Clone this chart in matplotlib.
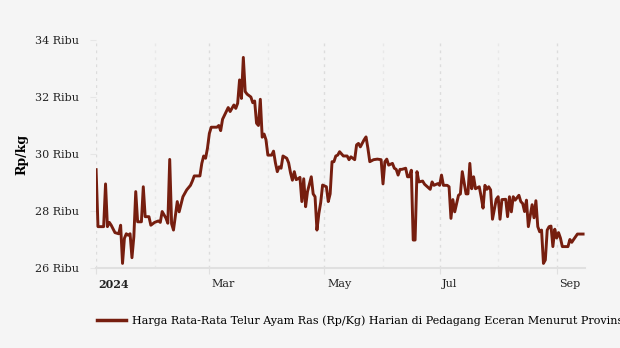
import matplotlib
matplotlib.use("Agg")
import matplotlib.pyplot as plt
import matplotlib.transforms as mtrans
import pandas as pd
from matplotlib.lines import Line2D

# days since 1 Jan 2024 and average price (thousand Rp/kg)
DAYS = [0, 1, 4, 5, 6, 7, 8, 10, 12, 13, 14, 15, 16, 17, 18, 19, 20, 21, 22, 24,
        25, 26, 28, 29, 31, 33, 34, 35, 37, 38, 39, 40, 41, 43, 44, 46, 48, 50, 51, 52,
        55, 56, 57, 58, 59, 60, 61, 64, 65, 66, 67, 69, 70, 71, 73, 74, 75, 76, 77, 78,
        79, 80, 82, 83, 84, 85, 86, 87, 88, 89, 90, 91, 93, 94, 95, 96, 97, 98, 99, 101,
        102, 103, 104, 105, 106, 107, 108, 109, 110, 111, 112, 114, 115, 116, 117, 118, 119, 120, 122, 123,
        124, 125, 126, 127, 128, 129, 131, 133, 134, 135, 137, 138, 139, 140, 142, 143, 144, 145, 147, 149,
        151, 152, 153, 154, 155, 157, 158, 159, 160, 161, 162, 164, 165, 166, 167, 168, 169, 170, 171, 173,
        174, 177, 178, 179, 181, 182, 183, 184, 186, 187, 188, 189, 190, 191, 192, 193, 194, 196, 197, 198,
        199, 200, 201, 203, 204, 205, 206, 207, 208, 209, 210, 212, 213, 214, 215, 217, 218, 219, 220, 221,
        222, 224, 225, 226, 227, 228, 229, 231, 232, 233, 234, 235, 236, 237, 238, 239, 240, 241, 242, 243,
        244, 245, 246, 247, 250, 251, 252, 253, 255, 258]
PRICE = [29.45, 27.45, 27.45, 28.95, 27.45, 27.6, 27.5, 27.24, 27.2, 27.5, 26.16, 27.04, 27.2, 27.15, 27.2, 26.36, 27.1, 28.68, 27.62, 27.62,
         28.85, 27.8, 27.8, 27.5, 27.6, 27.65, 27.6, 27.98, 27.75, 27.57, 29.81, 27.55, 27.33, 28.33, 27.97, 28.5, 28.74, 28.9, 29.05, 29.23,
         29.23, 29.67, 29.93, 29.85, 30.2, 30.72, 30.94, 30.94, 31.0, 30.82, 31.22, 31.49, 31.63, 31.49, 31.72, 31.6, 31.78, 32.6, 31.95, 33.39,
         32.19, 32.1, 32.0, 31.8, 31.86, 31.08, 31.0, 31.92, 30.59, 30.7, 30.5, 29.96, 29.96, 30.1, 29.69, 29.38, 29.55, 29.5, 29.93, 29.85,
         29.69, 29.34, 29.08, 29.38, 29.1, 29.13, 29.18, 28.33, 29.13, 28.15, 28.68, 29.2, 28.6, 28.5, 27.33, 27.9, 28.3, 28.91, 28.85, 28.33,
         28.6, 29.73, 29.73, 29.93, 29.96, 30.08, 29.93, 29.93, 29.8, 29.9, 29.8, 30.32, 30.37, 30.25, 30.5, 30.6, 30.2, 29.73, 29.8, 29.82,
         29.8, 28.95, 29.73, 29.82, 29.61, 29.67, 29.5, 29.46, 29.26, 29.46, 29.46, 29.5, 29.2, 29.2, 29.43, 26.98, 26.98, 29.38, 29.02, 29.05,
         28.94, 28.76, 29.02, 28.9, 28.96, 28.9, 29.26, 28.9, 28.9, 28.85, 27.74, 28.4, 27.97, 28.26, 28.55, 28.6, 29.38, 28.6, 28.6, 29.67,
         28.78, 29.2, 28.78, 28.85, 28.5, 28.1, 28.9, 28.76, 28.85, 28.74, 27.71, 28.41, 28.5, 27.71, 28.4, 28.41, 27.8, 28.5, 27.97, 28.5,
         28.38, 28.55, 28.33, 28.26, 27.98, 28.38, 27.45, 28.22, 27.76, 28.36, 27.45, 27.27, 27.33, 26.16, 26.28, 27.33, 27.45, 27.47, 26.75, 27.36,
         27.05, 27.24, 27.05, 26.75, 26.75, 27.0, 26.9, 27.0, 27.19, 27.19]

Y_TICKS = [26, 28, 30, 32, 34]
X_LABELS = {"2024-01-01": "2024", "2024-03-01": "Mar", "2024-05-01": "May",
            "2024-07-01": "Jul", "2024-09-01": "Sep"}
MINOR_MONTHS = ["2024-02-01", "2024-04-01", "2024-06-01", "2024-08-01"]
LEGEND_TEXT = "Harga Rata-Rata Telur Ayam Ras (Rp/Kg) Harian di Pedagang Eceran Menurut Provinsi"

BG = "#f5f5f5"
LINE = "#761e0f"

plt.rcParams["font.family"] = ["DejaVu Serif"]

dates = pd.Timestamp("2024-01-01") + pd.to_timedelta(DAYS, unit="D")

fig = plt.figure(figsize=(6.2, 3.48), dpi=100, facecolor=BG)
ax = fig.add_axes([0.155, 0.23, 0.7885, 0.655], facecolor=BG)

ax.plot(dates, PRICE, color=LINE, lw=2.1, solid_joinstyle="round")

ax.set_ylim(26, 34)
ax.set_xlim(pd.Timestamp("2024-01-01"), pd.Timestamp("2024-01-01") + pd.Timedelta(days=259))

ax.set_yticks(Y_TICKS)
ax.set_yticklabels([f"{v} Ribu" for v in Y_TICKS], fontsize=8, color="#222222")
ax.tick_params(axis="y", length=4, color="#e6e6e6", pad=8)

major = [pd.Timestamp(d) for d in X_LABELS]
ax.set_xticks(major)
ax.set_xticklabels(list(X_LABELS.values()), fontsize=8, ha="left", color="#222222")
for lbl in ax.get_xticklabels():
    if lbl.get_text() == "2024":
        lbl.set_fontweight("bold")
ax.tick_params(axis="x", length=4, color="#e0e0e0", pad=4)
# labels sit just right of their ticks
off = mtrans.ScaledTranslation(1.8 / 72, 0, fig.dpi_scale_trans)
for lbl in ax.get_xticklabels():
    lbl.set_transform(lbl.get_transform() + off)

for d in major:
    ax.axvline(d, color="#dcdcdc", lw=1, ls=(0, (2, 3)), zorder=0)
for d in MINOR_MONTHS:
    ax.axvline(pd.Timestamp(d), color="#e8e8e8", lw=1, ls=(0, (2, 3)), zorder=0)

for s in ["top", "right", "left"]:
    ax.spines[s].set_visible(False)
ax.spines["bottom"].set_color("#e0e0e0")
ax.spines["bottom"].set_linewidth(1.5)

ax.set_ylabel("Rp/kg", fontsize=9, fontweight="bold", labelpad=5)

handle = Line2D([], [], color=LINE, lw=2.5)
fig.legend([handle], [LEGEND_TEXT], loc="lower left", bbox_to_anchor=(0.14, 0.035),
           frameon=False, fontsize=8, handlelength=2.6, handletextpad=0.6)

fig.savefig("out.png", dpi=100, facecolor=BG)
